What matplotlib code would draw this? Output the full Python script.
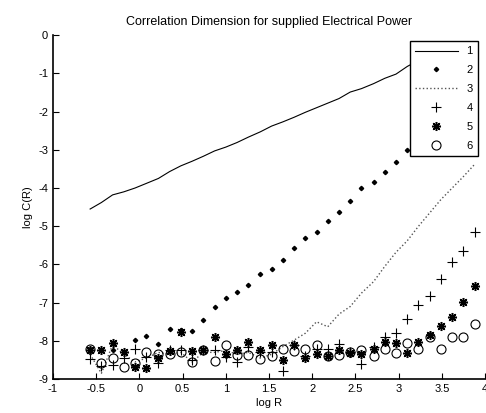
import numpy as np
import matplotlib
matplotlib.use("Agg")
import matplotlib.pyplot as plt

plt.rcParams['font.family'] = ['Liberation Sans', 'DejaVu Sans']
plt.rcParams['axes.unicode_minus'] = False

# log R grid
log_r = [-0.57, -0.44, -0.31, -0.18, -0.05, 0.08, 0.22, 0.35, 0.48, 0.61,
         0.74, 0.87, 1.00, 1.13, 1.26, 1.40, 1.53, 1.66, 1.79, 1.92,
         2.05, 2.18, 2.31, 2.44, 2.57, 2.71, 2.84, 2.97, 3.10, 3.23,
         3.36, 3.49, 3.62, 3.75, 3.88]

# log C(R) for the six embedding dimensions
c1 = [-4.55, -4.38, -4.18, -4.10, -4.00, -3.88, -3.75, -3.57, -3.42, -3.30,
      -3.17, -3.03, -2.93, -2.81, -2.67, -2.53, -2.38, -2.27, -2.15, -2.02,
      -1.90, -1.78, -1.66, -1.49, -1.40, -1.27, -1.13, -1.02, -0.82, -0.66,
      -0.55, -0.46, -0.39, -0.34, -0.30]
c2 = [-8.20, -8.25, -8.25, -8.28, -7.97, -7.88, -8.07, -7.70, -7.72, -7.73,
      -7.46, -7.10, -6.87, -6.72, -6.53, -6.25, -6.13, -5.89, -5.58, -5.31,
      -5.16, -4.87, -4.63, -4.35, -4.00, -3.85, -3.59, -3.32, -3.01, -2.72,
      -2.45, -2.20, -1.95, -1.70, -1.45]
c3 = [-8.35, -8.85, -8.10, -8.35, -8.55, -8.45, -8.30, -8.35, -8.30, -8.55,
      -8.30, -8.30, -8.25, -8.35, -8.30, -8.45, -8.35, -8.15, -7.98, -7.80,
      -7.50, -7.63, -7.30, -7.10, -6.75, -6.45, -6.05, -5.68, -5.38, -5.00,
      -4.65, -4.30, -4.00, -3.70, -3.38]
c4 = [-8.47, -8.65, -8.62, -8.45, -8.22, -8.43, -8.58, -8.25, -8.25, -8.50,
      -8.25, -8.25, -8.42, -8.55, -8.15, -8.28, -8.30, -8.78, -8.10, -8.40,
      -8.20, -8.20, -8.07, -8.30, -8.60, -8.15, -7.90, -7.80, -7.42, -7.07,
      -6.83, -6.39, -5.94, -5.65, -5.16]
c5 = [-8.25, -8.25, -8.05, -8.30, -8.68, -8.72, -8.44, -8.27, -7.77, -8.27,
      -8.25, -7.90, -8.35, -8.25, -8.02, -8.25, -8.10, -8.51, -8.12, -8.44,
      -8.33, -8.40, -8.25, -8.32, -8.35, -8.22, -8.03, -8.05, -8.32, -8.04,
      -7.85, -7.62, -7.38, -6.99, -6.57]
c6 = [-8.22, -8.58, -8.45, -8.68, -8.58, -8.28, -8.35, -8.35, -8.30, -8.55,
      -8.25, -8.52, -8.12, -8.37, -8.37, -8.47, -8.40, -8.22, -8.27, -8.22,
      -8.12, -8.40, -8.36, -8.30, -8.25, -8.40, -8.22, -8.32, -8.06, -8.22,
      -7.90, -8.22, -7.90, -7.90, -7.57]

fig = plt.figure(figsize=(4.86, 4.13), dpi=100)
ax = fig.add_axes([0.109, 0.082, 0.889, 0.833])

ax.plot(log_r, c1, '-', color='black', lw=0.8, label='1')
ax.plot(log_r, c2, 'D', color='black', ms=2.2, ls='none', label='2')
ax.plot(log_r, c3, ':', color='#555555', lw=1.0, label='3')
ax.plot(log_r, c4, '+', color='black', ms=7, mew=0.8, ls='none', label='4')
ax.plot(log_r, c5, marker=(8, 2, 0), color='black', ms=6.5, mew=1.1, ls='none', label='5')
ax.plot(log_r, c6, 'o', mfc='none', mec='black', ms=6.5, mew=0.8, ls='none', label='6')

ax.set_xlim(-1, 4)
ax.set_ylim(-9, 0)
ax.set_xticks([-1, -0.5, 0, 0.5, 1, 1.5, 2, 2.5, 3, 3.5, 4])
ax.set_xticklabels(['-1', '-0.5', '0', '0.5', '1', '1.5', '2', '2.5', '3', '3.5', '4'])
ax.set_yticks(range(-9, 1))
ax.tick_params(direction='in', length=4, width=0.8, labelsize=8)
ax.spines['top'].set_visible(False)
ax.spines['right'].set_visible(False)
ax.spines['left'].set_linewidth(1.2)
ax.spines['bottom'].set_linewidth(1.2)

ax.set_title('Correlation Dimension for supplied Electrical Power', fontsize=9, pad=7)
ax.set_xlabel('log R', fontsize=8, labelpad=3)
ax.set_ylabel('log C(R)', fontsize=8, labelpad=4)

leg = ax.legend(loc='upper right', bbox_to_anchor=(0.984, 0.901),
                bbox_transform=fig.transFigure, fontsize=8, frameon=True,
                fancybox=False, framealpha=1, edgecolor='black',
                handlelength=3.8, labelspacing=0.8, borderpad=0.5,
                handletextpad=0.8, borderaxespad=0)
leg.get_frame().set_linewidth(1.0)

fig.savefig('out.png', dpi=100)
